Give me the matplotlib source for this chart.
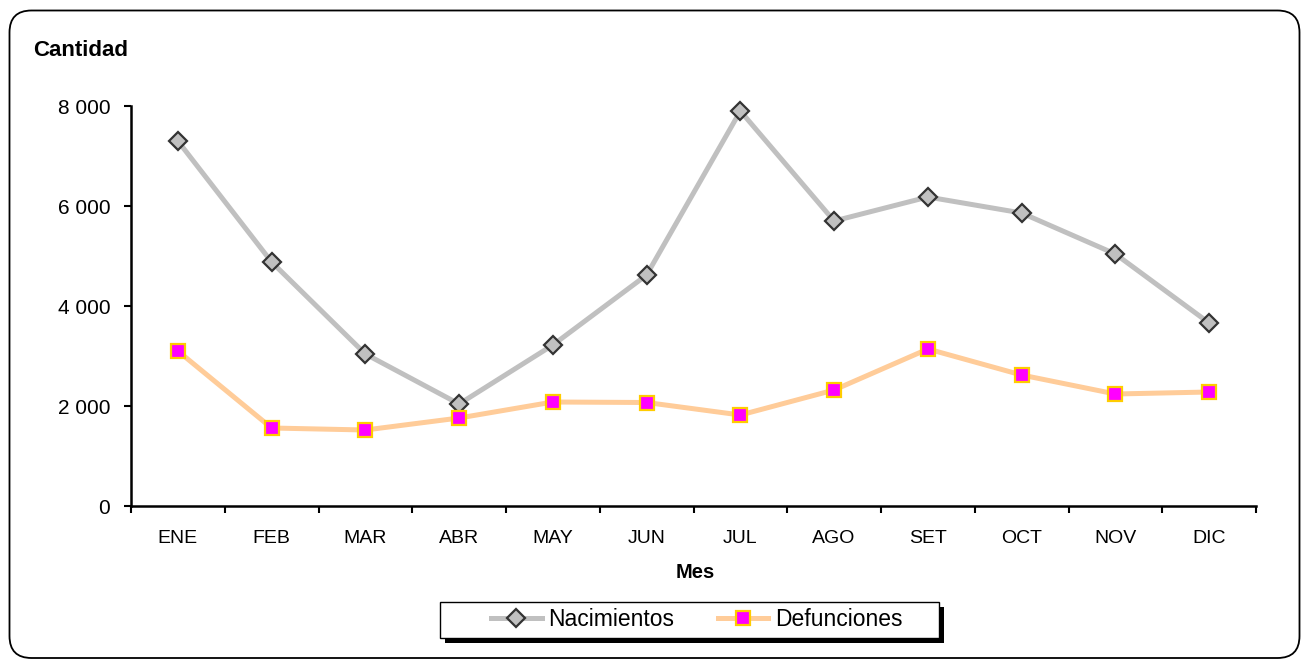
import matplotlib
matplotlib.use("Agg")
import matplotlib.pyplot as plt
from matplotlib.patches import FancyBboxPatch, Rectangle
from matplotlib.ticker import FuncFormatter
import matplotlib.transforms as mtransforms

plt.rcParams['font.family'] = ['Liberation Sans', 'DejaVu Sans']

meses = ["ENE", "FEB", "MAR", "ABR", "MAY", "JUN", "JUL", "AGO", "SET", "OCT", "NOV", "DIC"]
nacimientos = [7300, 4880, 3040, 2040, 3220, 4620, 7900, 5700, 6180, 5860, 5040, 3660]
defunciones = [3100, 1560, 1520, 1760, 2080, 2070, 1820, 2320, 3140, 2620, 2240, 2280]
yticks = [0, 2000, 4000, 6000, 8000]

W, H = 1304, 660
fig = plt.figure(figsize=(W / 100, H / 100), dpi=100)

# rounded outer frame
frame = FancyBboxPatch((9.5, 2), 1290, 647.5, boxstyle="round,pad=0,rounding_size=22",
                       transform=mtransforms.IdentityTransform(), fill=False,
                       edgecolor="black", linewidth=1.3)
fig.patches.append(frame)

ax = fig.add_axes([131 / W, 1 - 506 / H, (1256 - 131) / W, (506 - 106) / H])
x = list(range(len(meses)))
ax.plot(x, nacimientos, color="#C0C0C0", linewidth=3.6, marker="D", markersize=9,
        markerfacecolor="#C0C0C0", markeredgecolor="#333333", markeredgewidth=1.6,
        label="Nacimientos", zorder=3, clip_on=False)
ax.plot(x, defunciones, color="#FFCC99", linewidth=3.6, marker="s", markersize=10.5,
        markerfacecolor="#FF00FF", markeredgecolor="#FFCC00", markeredgewidth=1.6,
        label="Defunciones", zorder=3, clip_on=False)

ax.set_xlim(-0.5, len(meses) - 0.5)
ax.set_ylim(0, 8000)
ax.set_yticks(yticks)
ax.yaxis.set_major_formatter(FuncFormatter(lambda v, p: f"{int(v):,}".replace(",", " ")))
ax.set_xticks(x)
ax.set_xticklabels(meses)
ax.set_xticks([i - 0.5 for i in range(len(meses) + 1)], minor=True)
ax.tick_params(axis="x", which="major", length=0, pad=17, labelsize=14)
ax.tick_params(axis="x", which="minor", length=5, width=1.5, direction="out")
ax.tick_params(axis="y", which="major", length=5, width=1.5, direction="out", pad=10, labelsize=15)
for s in ["top", "right"]:
    ax.spines[s].set_visible(False)
for s in ["left", "bottom"]:
    ax.spines[s].set_linewidth(1.8)
ax.set_xlabel("Mes", fontsize=14.5, fontweight="bold")
ax.xaxis.set_label_coords((695 - 131) / (1256 - 131), -(573 - 506) / 400)
ax.xaxis.label.set_va("center")

fig.text(33 / W, 1 - 51 / H, "Cantidad", fontsize=16, fontweight="bold", va="center", ha="left")

# legend box with hard shadow
fig.patches.append(Rectangle((445 / W, 1 - 643 / H), 499 / W, 36 / H, transform=fig.transFigure,
                             facecolor="black", edgecolor="none", zorder=1))
fig.patches.append(Rectangle((440 / W, 1 - 638 / H), 499 / W, 36 / H, transform=fig.transFigure,
                             facecolor="white", edgecolor="black", linewidth=1.0, zorder=1.5))
leg = fig.legend(loc="center", bbox_to_anchor=(697 / W, 1 - 620 / H),
                 ncol=2, frameon=False, fontsize=16.5, handlelength=2.2, handletextpad=0.3,
                 columnspacing=1.9, borderaxespad=0, borderpad=0)
leg.set_zorder(2)

fig.savefig("out.png", dpi=100)
